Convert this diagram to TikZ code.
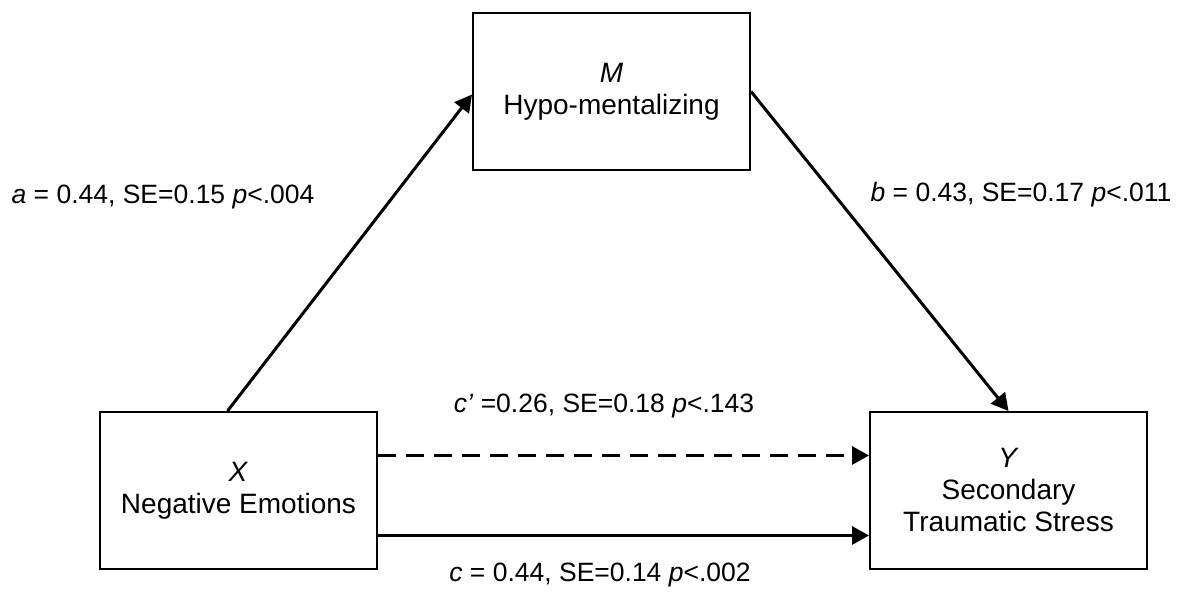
\documentclass[tikz,border=0pt]{standalone}
\usepackage{fontspec}
\setmainfont{Liberation Sans}
\usetikzlibrary{arrows.meta}
\tikzset{
  varbox/.style={draw, line width=2pt, minimum width=277pt, minimum height=157pt, align=center, inner sep=0pt, font=\fontsize{28}{32}\selectfont},
  pathlabel/.style={font=\fontsize{26.5}{31}\selectfont, inner sep=0pt},
  patharrow/.style={line width=3pt, -{Triangle[length=17pt,width=18pt]}}
}
\begin{document}
\begin{tikzpicture}[x=1pt,y=1pt]
\useasboundingbox (0,0) rectangle (1190,591);
\node[varbox] (m) at (611.5,499.5) {\textit{M}\\Hypo-mentalizing};
\node[varbox] (x) at (238.5,100.5) {\textit{X}\\Negative Emotions};
\node[varbox] (y) at (1008.5,100.5) {\textit{Y}\\Secondary\\Traumatic Stress};
\draw[patharrow] ([xshift=-11pt]x.north) -- ([yshift=-3pt]m.west);
\draw[patharrow] (m.east) -- (y.north);
\draw[patharrow, dash pattern=on 18pt off 10pt] ([yshift=35pt]x.east) -- ([yshift=35pt]y.west);
\draw[patharrow] ([yshift=-45pt]x.east) -- ([yshift=-45pt]y.west);
\node[pathlabel] (alab) at (163,394) {\textit{a} = 0.44, SE=0.15 \textit{p}<.004};
\node[pathlabel] (blab) at (1021,396) {\textit{b} = 0.43, SE=0.17 \textit{p}<.011};
\node[pathlabel] (cplab) at (604,185) {\textit{c’} =0.26, SE=0.18 \textit{p}<.143};
\node[pathlabel] (clab) at (600,16) {\textit{c} = 0.44, SE=0.14 \textit{p}<.002};
\end{tikzpicture}
\end{document}
